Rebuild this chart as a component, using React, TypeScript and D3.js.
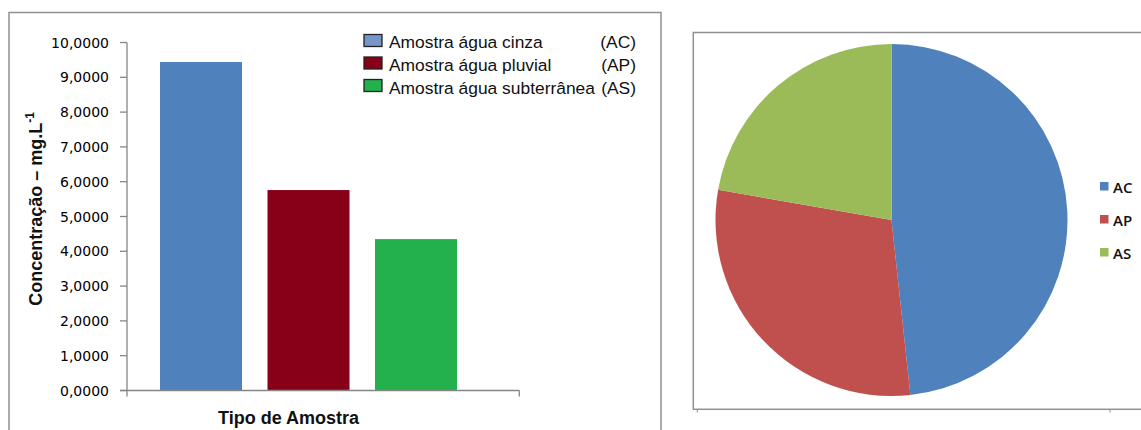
import React from "react";
import * as d3 from "d3";

const codes = ["AC", "AP", "AS"];
const labels = ["Amostra água cinza", "Amostra água pluvial", "Amostra água subterrânea"];
const values = [9.44, 5.76, 4.35];
const barColors = ["#4F81BD", "#880018", "#22B14C"];
const swatchColors = ["#7597C8", "#880018", "#22B14C"];
const pieColors = ["#4F81BD", "#C0504D", "#9BBB59"];
const yTicks = [0, 1, 2, 3, 4, 5, 6, 7, 8, 9, 10];

const W = 1141;
const H = 430;

export default function App() {
  const y = d3.scaleLinear().domain([0, 10]).range([390.5, 42.5]);
  const x = d3.scaleBand<string>().domain(codes).range([160, 457]).paddingInner(0.237).paddingOuter(0);
  const fmt = (v: number) => v.toFixed(4).replace(".", ",");

  const pie = d3.pie<number>().sort(null).value((d) => d)(values);
  const arc = d3.arc<d3.PieArcDatum<number>>().innerRadius(0).outerRadius(176);

  const axisColor = "#868686";
  const borderColor = "#909090";

  return (
    <svg width={W} height={H} style={{ position: "absolute", left: 0, top: 0, background: "#fff" }}>
      {/* Left panel border */}
      <rect x={9} y={12.5} width={652} height={440} fill="#fff" stroke={borderColor} strokeWidth={1.5} />
      {/* Right panel border */}
      <rect x={693.3} y={32.5} width={470} height={376.8} fill="#fff" stroke={borderColor} strokeWidth={1.5} />
      <line x1={697.3} x2={697.3} y1={409.3} y2={412.5} stroke={borderColor} strokeWidth={1} />
      <line x1={1110} x2={1110} y1={409.3} y2={412.5} stroke={borderColor} strokeWidth={1} />

      {/* Bars */}
      {values.map((v, i) => (
        <rect key={codes[i]} x={x(codes[i])} y={y(v)} width={x.bandwidth()} height={y(0) - y(v)} fill={barColors[i]} />
      ))}

      {/* Y axis */}
      <line x1={127} x2={127} y1={y(10)} y2={y(0) + 6} stroke={axisColor} strokeWidth={1.3} />
      {yTicks.map((t) => (
        <g key={t}>
          <line x1={120} x2={127} y1={y(t)} y2={y(t)} stroke={axisColor} strokeWidth={1.3} />
          <text x={109} y={y(t)} dy="0.36em" textAnchor="end" fontFamily="DejaVu Sans" fontSize={14} fill="#000">
            {fmt(t)}
          </text>
        </g>
      ))}
      {/* X axis */}
      <line x1={120} x2={519.3} y1={y(0)} y2={y(0)} stroke={axisColor} strokeWidth={1.3} />
      <line x1={519.3} x2={519.3} y1={y(0)} y2={y(0) + 6} stroke={axisColor} strokeWidth={1.3} />

      {/* Axis titles */}
      <text x={288.5} y={424} textAnchor="middle" fontFamily="Liberation Sans" fontWeight="bold" fontSize={18} fill="#111">
        Tipo de Amostra
      </text>
      <text transform="translate(42,209) rotate(-90)" textAnchor="middle" fontFamily="Liberation Sans" fontWeight="bold" fontSize={18} fill="#111">
        Concentração – mg.L<tspan dy={-8} fontSize={12}>-1</tspan>
      </text>

      {/* Bar legend */}
      {codes.map((c, i) => (
        <g key={c}>
          <rect x={364} y={34.5 + i * 22.5} width={18} height={12} fill={swatchColors[i]} stroke="#222" strokeWidth={1.3} />
          <text x={389} y={47.5 + i * 23} fontFamily="Liberation Sans" fontSize={17.4} fill="#111">
            {labels[i]}
          </text>
          <text x={636} y={47.5 + i * 23} textAnchor="end" fontFamily="Liberation Sans" fontSize={17.4} fill="#111">
            ({c})
          </text>
        </g>
      ))}

      {/* Pie */}
      <g transform="translate(891.5,220)">
        {pie.map((p, i) => (
          <path key={codes[i]} d={arc(p) || ""} fill={pieColors[i]} />
        ))}
      </g>

      {/* Pie legend */}
      {codes.map((c, i) => (
        <g key={"pl" + c}>
          <rect x={1100} y={182 + i * 33} width={8.5} height={8.5} fill={pieColors[i]} />
          <text x={1113} y={193 + i * 33} fontFamily="Open Sans" fontWeight={600} fontSize={15} fill="#111">
            {c}
          </text>
        </g>
      ))}
    </svg>
  );
}
